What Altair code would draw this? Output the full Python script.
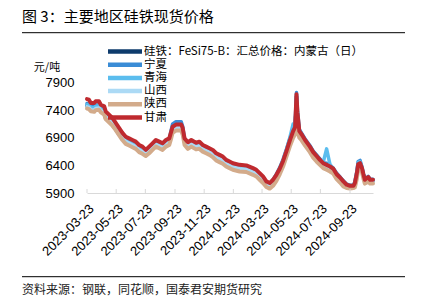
import altair as alt
import pandas as pd

DATES = [
    "2023-03-23", "2023-03-27", "2023-03-31", "2023-04-07", "2023-04-10", "2023-04-17", "2023-04-21",
    "2023-04-28", "2023-05-01", "2023-05-08", "2023-05-15", "2023-05-22", "2023-05-29", "2023-06-05",
    "2023-06-12", "2023-06-19", "2023-06-26", "2023-07-03", "2023-07-10", "2023-07-17", "2023-07-24",
    "2023-07-31", "2023-08-07", "2023-08-14", "2023-08-21", "2023-08-28", "2023-09-04", "2023-09-11",
    "2023-09-15", "2023-09-18", "2023-09-25", "2023-10-06", "2023-10-09", "2023-10-13", "2023-10-20",
    "2023-10-27", "2023-11-06", "2023-11-13", "2023-11-20", "2023-11-27", "2023-12-04", "2023-12-11",
    "2023-12-18", "2023-12-25", "2024-01-01", "2024-01-08", "2024-01-15", "2024-01-22", "2024-02-05",
    "2024-02-19", "2024-03-04", "2024-03-11", "2024-03-18", "2024-03-25", "2024-04-01", "2024-04-08",
    "2024-04-15", "2024-04-22", "2024-04-29", "2024-05-06", "2024-05-13", "2024-05-20", "2024-05-27",
    "2024-05-31", "2024-06-02", "2024-06-03", "2024-06-05", "2024-06-09", "2024-06-14", "2024-06-21",
    "2024-07-01", "2024-07-08", "2024-07-15", "2024-07-22", "2024-07-29", "2024-08-05", "2024-08-12",
    "2024-08-19", "2024-08-26", "2024-09-02", "2024-09-09", "2024-09-16", "2024-09-23", "2024-09-30",
    "2024-10-03", "2024-10-07", "2024-10-10", "2024-10-14", "2024-10-18", "2024-10-21", "2024-10-24",
    "2024-10-28", "2024-10-31", "2024-11-04", "2024-11-10",
]

NEIMENGGU = [
    7480, 7470, 7400, 7380, 7420, 7430, 7380, 7330, 7250, 7200, 7130, 7050, 6960, 6880, 6810, 6780,
    6750, 6720, 6660, 6620, 6600, 6650, 6720, 6780, 6750, 6720, 6780, 6820, 6950, 7050, 7080, 7080,
    7010, 6820, 6740, 6790, 6740, 6730, 6690, 6680, 6650, 6610, 6530, 6520, 6500, 6450, 6420, 6390,
    6370, 6360, 6310, 6270, 6200, 6140, 6060, 6040, 6110, 6200, 6320, 6460, 6640, 6820, 7000, 7060,
    7400, 7650, 7300, 6980, 6930, 6830, 6720, 6620, 6560, 6510, 6430, 6400, 6370, 6320, 6220, 6160,
    6090, 6030, 6010, 6010, 6060, 6230, 6400, 6420, 6330, 6220, 6120, 6150, 6170, 6120, 6120,
]
NINGXIA = [
    7520, 7510, 7470, 7460, 7490, 7500, 7450, 7420, 7340, 7280, 7210, 7130, 7040, 6950, 6880, 6850,
    6820, 6790, 6730, 6700, 6660, 6720, 6780, 6840, 6810, 6780, 6840, 6880, 7040, 7150, 7190, 7190,
    7110, 6880, 6800, 6850, 6800, 6800, 6750, 6720, 6690, 6660, 6600, 6570, 6540, 6490, 6460, 6430,
    6400, 6390, 6340, 6300, 6240, 6180, 6100, 6070, 6140, 6240, 6360, 6510, 6690, 6880, 7060, 7120,
    7520, 7720, 7400, 7050, 6980, 6880, 6760, 6660, 6590, 6520, 6450, 6440, 6400, 6350, 6260, 6190,
    6120, 6060, 6040, 6040, 6100, 6280, 6470, 6490, 6370, 6250, 6150, 6180, 6200, 6150, 6150,
]
QINGHAI = [
    7500, 7490, 7450, 7440, 7470, 7480, 7430, 7400, 7320, 7260, 7200, 7120, 7030, 6940, 6870, 6840,
    6810, 6780, 6720, 6690, 6650, 6700, 6760, 6820, 6790, 6760, 6820, 6850, 6980, 7080, 7120, 7120,
    7050, 6860, 6780, 6830, 6780, 6790, 6740, 6710, 6680, 6650, 6590, 6560, 6530, 6470, 6440, 6410,
    6380, 6370, 6320, 6290, 6230, 6170, 6090, 6060, 6120, 6210, 6330, 6480, 6680, 6900, 7150, 7100,
    7420, 7640, 7330, 7000, 6940, 6840, 6720, 6620, 6550, 6480, 6460, 6700, 6420, 6330, 6230, 6170,
    6100, 6040, 6020, 6020, 6080, 6260, 6450, 6470, 6350, 6230, 6130, 6160, 6180, 6130, 6130,
]
SHANXI = [
    7460, 7450, 7410, 7400, 7430, 7440, 7390, 7360, 7280, 7220, 7160, 7080, 6990, 6900, 6830, 6800,
    6770, 6740, 6680, 6650, 6610, 6660, 6720, 6780, 6750, 6720, 6780, 6810, 6940, 7040, 7080, 7080,
    7010, 6820, 6750, 6790, 6740, 6750, 6700, 6670, 6640, 6610, 6550, 6520, 6490, 6430, 6400, 6370,
    6340, 6330, 6280, 6250, 6190, 6130, 6050, 6020, 6080, 6170, 6290, 6430, 6610, 6800, 6980, 7040,
    7300, 7450, 7200, 6950, 6900, 6800, 6680, 6580, 6510, 6440, 6390, 6370, 6340, 6290, 6190, 6130,
    6060, 6000, 6000, 6000, 6040, 6210, 6380, 6400, 6310, 6190, 6100, 6120, 6140, 6100, 6100,
]
SHAANXI = [
    7430, 7420, 7380, 7370, 7400, 7410, 7360, 7320, 7240, 7180, 7120, 7040, 6950, 6860, 6790, 6760,
    6730, 6700, 6640, 6610, 6570, 6620, 6680, 6740, 6710, 6680, 6740, 6770, 6890, 6990, 7030, 7030,
    6960, 6770, 6700, 6740, 6690, 6700, 6650, 6620, 6590, 6550, 6490, 6460, 6430, 6380, 6350, 6320,
    6290, 6280, 6230, 6200, 6140, 6080, 6010, 5980, 6030, 6120, 6240, 6380, 6560, 6740, 6900, 6960,
    7040, 7130, 7020, 6900, 6850, 6760, 6640, 6540, 6470, 6410, 6350, 6320, 6290, 6250, 6150, 6090,
    6020, 5990, 5980, 5990, 6000, 6150, 6320, 6350, 6270, 6160, 6070, 6090, 6110, 6070, 6070,
]
GANSU = [
    7600, 7590, 7530, 7530, 7560, 7560, 7500, 7470, 7380, 7320, 7260, 7170, 7080, 6990, 6920, 6890,
    6860, 6830, 6770, 6740, 6680, 6740, 6800, 6860, 6830, 6800, 6860, 6890, 7010, 7100, 7140, 7140,
    7080, 6890, 6820, 6860, 6810, 6830, 6770, 6740, 6710, 6680, 6620, 6590, 6560, 6500, 6470, 6440,
    6410, 6400, 6350, 6320, 6260, 6200, 6110, 6080, 6140, 6230, 6340, 6480, 6660, 6850, 7020, 7090,
    7470, 7690, 7360, 7020, 6960, 6860, 6740, 6640, 6570, 6500, 6440, 6410, 6380, 6340, 6240, 6180,
    6110, 6050, 6030, 6030, 6080, 6250, 6420, 6440, 6350, 6240, 6140, 6170, 6190, 6140, 6140,
]

SERIES = ["硅铁：FeSi75-B：汇总价格：内蒙古（日）", "宁夏", "青海", "山西", "陕西", "甘肃"]
VALUES = [NEIMENGGU, NINGXIA, QINGHAI, SHANXI, SHAANXI, GANSU]
COLORS = ["#0e3b6c", "#3a8cd6", "#5bbdee", "#acdaf5", "#d3ab8b", "#bf2a2f"]
WIDTHS = [3.5, 3.5, 3.5, 3.5, 4, 4]

Y_TICKS = [5900, 6400, 6900, 7400, 7900]
X_TICKS = ["2023-03-23", "2023-05-23", "2023-07-23", "2023-09-23", "2023-11-23",
           "2024-01-23", "2024-03-23", "2024-05-23", "2024-07-23", "2024-09-23"]
X_START, X_END = "2023-03-23", "2024-11-10"

TITLE = "图 3：主要地区硅铁现货价格"
SOURCE = "资料来源：钢联，同花顺，国泰君安期货研究"
UNIT = "元/吨"

CJK = "Noto Sans CJK SC"
LAT = "Liberation Sans"

W, H = 286, 138

rows = []
for name, vals in zip(SERIES, VALUES):
    for d, v in zip(DATES, vals):
        rows.append({"date": d, "series": name, "value": v})
df = pd.DataFrame(rows)


def dt(s):
    y, m, d = (int(p) for p in s.split("-"))
    return alt.DateTime(year=y, month=m, date=d, utc=True)


color_scale = alt.Scale(domain=SERIES, range=COLORS)

X = alt.X(
    "date:T",
    scale=alt.Scale(type="utc", domain=[dt(X_START), dt(X_END)]),
    axis=alt.Axis(
        values=[dt(s) for s in X_TICKS], format="%Y-%m-%d", labelAngle=-45,
        labelFont=LAT, labelFontSize=13, labelColor="#000000", labelPadding=9,
        labelOverlap=False, labelFlush=False, labelBound=False,
        ticks=False, grid=False, domainColor="#d9d9d9", domainWidth=1, title=None,
    ),
)
Y = alt.Y(
    "value:Q",
    scale=alt.Scale(domain=[5900, 8400], nice=False, zero=False),
    axis=alt.Axis(
        values=Y_TICKS, format="d", labelFont=LAT, labelFontSize=13, labelColor="#000000",
        labelPadding=13, labelOverlap=False, ticks=False, grid=False, domain=False, title=None,
    ),
)

lines = []
for name, w in zip(SERIES, WIDTHS):
    lines.append(
        alt.Chart(df)
        .transform_filter(alt.datum.series == name)
        .mark_line(strokeWidth=w, strokeJoin="round", strokeCap="round")
        .encode(x=X, y=Y, color=alt.Color("series:N", scale=color_scale, legend=None))
    )

tick_df = pd.DataFrame({"date": X_TICKS})
ticks = alt.Chart(tick_df).mark_rule(color="#d9d9d9", strokeWidth=1).encode(
    x=X, y=alt.value(H - 4), y2=alt.value(H)
)

main = alt.layer(*lines, ticks)

leg_df = pd.DataFrame({"series": SERIES, "idx": list(range(len(SERIES)))})
leg_y = alt.Y("idx:Q", scale=alt.Scale(domain=[0, 5], range=[-3.5, 62.5]), axis=None)
leg_rules = alt.Chart(leg_df).mark_rule(strokeWidth=4.5).encode(
    x=alt.value(21), x2=alt.value(55), y=leg_y,
    color=alt.Color("series:N", scale=color_scale, legend=None),
)
leg_text = alt.Chart(leg_df).mark_text(
    align="left", baseline="middle", font=CJK, fontSize=11.5, color="#000000"
).encode(x=alt.value(57), y=leg_y, text="series:N")
legend = alt.layer(leg_rules, leg_text)

title = alt.Chart(pd.DataFrame({"t": [TITLE]})).mark_text(
    align="left", baseline="middle", font=CJK, fontSize=15, color="#000000"
).encode(x=alt.value(-65), y=alt.value(-38.5), text="t:N")
unit = alt.Chart(pd.DataFrame({"t": [UNIT]})).mark_text(
    align="center", baseline="middle", font=CJK, fontSize=11, color="#000000"
).encode(x=alt.value(-40), y=alt.value(13), text="t:N")
source = alt.Chart(pd.DataFrame({"t": [SOURCE]})).mark_text(
    align="left", baseline="middle", font=CJK, fontSize=12, color="#222222"
).encode(x=alt.value(-65), y=alt.value(235), text="t:N")
top_line = alt.Chart(pd.DataFrame({"t": [0]})).mark_rule(color="#000000", strokeWidth=1).encode(
    x=alt.value(-65), x2=alt.value(318), y=alt.value(-22.3)
)
bot_line = alt.Chart(pd.DataFrame({"t": [0]})).mark_rule(color="#000000", strokeWidth=1).encode(
    x=alt.value(-65), x2=alt.value(318), y=alt.value(221.7)
)

chart = (
    alt.layer(main, legend, title, unit, source, top_line, bot_line)
    .resolve_scale(y="independent")
    .properties(
        width=W, height=H,
        padding={"left": 79, "top": 47, "right": 52, "bottom": 104},
        autosize=alt.AutoSizeParams(type="none"),
        background="#ffffff",
    )
    .configure_view(stroke=None)
)

chart.save("out.html", embed_options={"renderer": "svg", "actions": False})
